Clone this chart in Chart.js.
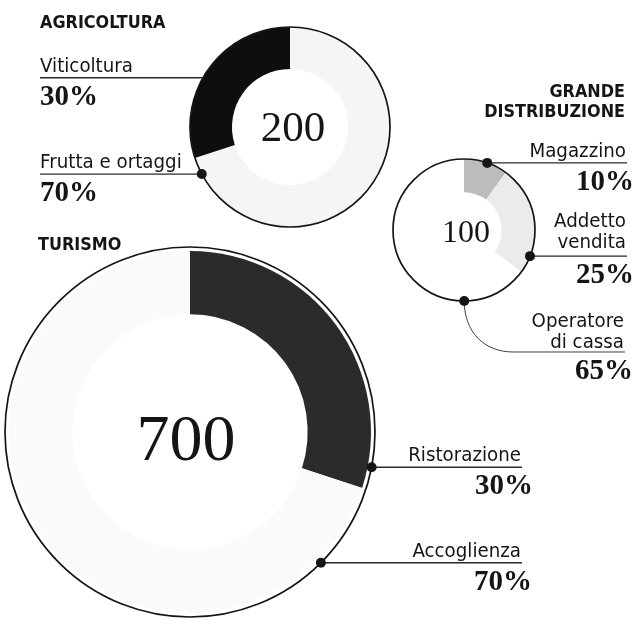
<!DOCTYPE html>
<html>
<head>
<meta charset="utf-8">
<script src="https://cdn.jsdelivr.net/npm/chart.js@4/dist/chart.umd.min.js"></script>
<style>
html,body{margin:0;padding:0;background:#fff;}
#wrap{position:relative;width:639px;height:619px;overflow:hidden;background:#fff;}
#wrap canvas{position:absolute;left:0;top:0;}
</style>
</head>
<body>
<div id="wrap">
  <canvas id="cTur" width="639" height="619"></canvas>
  <canvas id="cAgri" width="639" height="619"></canvas>
  <canvas id="cGdo" width="639" height="619"></canvas>
</div>
<script>
// ---------- DATA ----------
const agriTitle = ['AGRICOLTURA'];
const agriCategories = ['Frutta e ortaggi', 'Viticoltura'];
const agriValues = [70, 30];
const agriTotal = 200;

const turTitle = ['TURISMO'];
const turCategories = ['Ristorazione', 'Accoglienza'];
const turValues = [30, 70];
const turTotal = 700;

const gdoTitle = ['GRANDE', 'DISTRIBUZIONE'];
const gdoCategories = ['Magazzino', 'Addetto vendita', 'Operatore di cassa'];
const gdoValues = [10, 25, 65];
const gdoTotal = 100;

// ---------- DRAWING HELPERS ----------
const INK = '#151515';
const LABEL_FONT = '19px "DejaVu Sans", "Noto Sans", sans-serif';
const TITLE_FONT = 'bold 18px "DejaVu Sans", "Noto Sans", sans-serif';
const PCT_FONT = 'bold 29px "Liberation Serif", "DejaVu Serif", serif';

function txt(ctx, s, x, y, font, align, sx) {
  ctx.save();
  ctx.font = font;
  ctx.fillStyle = INK;
  ctx.textAlign = align;
  ctx.textBaseline = 'alphabetic';
  ctx.translate(x, y);
  ctx.scale(sx, 1);
  ctx.fillText(s, 0, 0);
  ctx.restore();
}

const calloutPlugin = {
  id: 'callouts',
  afterDatasetsDraw(chart, args, o) {
    const ctx = chart.ctx;
    const meta = chart.getDatasetMeta(0);
    const first = meta.data[0];
    const cx = first.x, cy = first.y;
    const R = first.outerRadius + (o.ringGap || 0);
    const labels = chart.data.labels;
    const values = chart.data.datasets[0].data;

    // outer outline
    ctx.save();
    ctx.beginPath();
    ctx.arc(cx, cy, R, 0, Math.PI * 2);
    ctx.lineWidth = 1.7;
    ctx.strokeStyle = INK;
    ctx.stroke();
    ctx.restore();

    // centre total
    ctx.save();
    ctx.font = o.centerFont;
    ctx.fillStyle = INK;
    ctx.textAlign = 'center';
    ctx.textBaseline = 'alphabetic';
    ctx.translate(cx + o.centerShift[0], cy + o.centerShift[1]);
    ctx.scale(o.centerScale, 1);
    ctx.fillText(String(o.total), 0, 0);
    ctx.restore();

    // title
    o.title.lines.forEach((t, i) => {
      txt(ctx, t, o.title.x, o.title.y + i * 20, TITLE_FONT, o.title.align, 0.89);
    });

    // callouts
    o.items.forEach(it => {
      const arc = meta.data[it.index];
      const ang = arc.startAngle + it.frac * (arc.endAngle - arc.startAngle);
      const px = cx + R * Math.cos(ang);
      const py = cy + R * Math.sin(ang);
      let lineY = py;
      ctx.save();
      ctx.strokeStyle = '#2a2a2a';
      ctx.lineWidth = 1.3;
      ctx.beginPath();
      if (it.side === 'left') {
        ctx.moveTo(it.textX, py);
        ctx.lineTo(px, py);
      } else if (it.curve) {
        lineY = py + it.curve[1];
        ctx.lineWidth = 0.9;
        ctx.moveTo(px, py);
        ctx.bezierCurveTo(px, py + it.curve[1] * 0.6, px + it.curve[0] * 0.4, lineY, px + it.curve[0], lineY);
        ctx.lineTo(it.lineEnd, lineY);
      } else {
        ctx.moveTo(px, py);
        ctx.lineTo(it.lineEnd, py);
      }
      ctx.stroke();
      if (it.dot) {
        ctx.beginPath();
        ctx.arc(px, py, 5, 0, Math.PI * 2);
        ctx.fillStyle = INK;
        ctx.fill();
      }
      ctx.restore();

      const name = labels[it.index];
      let parts = [name];
      if (it.wrap) {
        const k = name.indexOf(' ');
        parts = [name.slice(0, k), name.slice(k + 1)];
      }
      const gap = it.textGap || 6;
      const pct = values[it.index] + '%';
      if (it.side === 'left') {
        parts.forEach((p, i) => txt(ctx, p, it.textX, lineY - gap - (parts.length - 1 - i) * 21, LABEL_FONT, 'left', 0.96));
        txt(ctx, pct, it.textX, lineY + 27, PCT_FONT, 'left', 1);
      } else {
        parts.forEach((p, i) => txt(ctx, p, it.lineEnd - 1, lineY - gap - (parts.length - 1 - i) * 21, LABEL_FONT, 'right', 0.96));
        txt(ctx, pct, it.pctRight, lineY + 27, PCT_FONT, 'right', 1);
      }
    });
  }
};

function makeDonut(id, categories, values, colors, cutout, padding, calloutOpts) {
  return new Chart(document.getElementById(id), {
    type: 'doughnut',
    data: {
      labels: categories,
      datasets: [{
        data: values,
        backgroundColor: colors,
        borderWidth: 0,
        hoverOffset: 0
      }]
    },
    options: {
      responsive: false,
      animation: false,
      devicePixelRatio: 1,
      cutout: cutout,
      layout: { padding: padding },
      events: [],
      plugins: {
        legend: { display: false },
        tooltip: { enabled: false },
        callouts: calloutOpts
      }
    },
    plugins: [calloutPlugin]
  });
}

// TURISMO
makeDonut('cTur', turCategories, turValues, ['#2b2b2b', '#fafafa'], '65%',
  { left: 9, right: 268, top: 251, bottom: 6 },
  {
    total: turTotal, ringGap: 4,
    centerFont: '66px "Liberation Serif", "DejaVu Serif", serif', centerShift: [-4, 28], centerScale: 1,
    title: { lines: turTitle, x: 38, y: 250, align: 'left' },
    items: [
      { index: 0, frac: 0.935, dot: true, side: 'right', lineEnd: 522, pctRight: 533 },
      { index: 1, frac: 0.107, dot: true, side: 'right', lineEnd: 522, pctRight: 532 }
    ]
  });

// AGRICOLTURA
makeDonut('cAgri', agriCategories, agriValues, ['#f5f5f5', '#0e0e0e'], '58%',
  { left: 190, right: 249, top: 27, bottom: 392 },
  {
    total: agriTotal, ringGap: 0,
    centerFont: '43px "Liberation Serif", "DejaVu Serif", serif', centerShift: [3, 14], centerScale: 1,
    title: { lines: agriTitle, x: 40, y: 28, align: 'left' },
    items: [
      { index: 1, frac: 0.44, dot: false, side: 'left', textX: 40 },
      { index: 0, frac: 0.96, dot: true, side: 'left', textX: 40 }
    ]
  });

// GRANDE DISTRIBUZIONE
makeDonut('cGdo', gdoCategories, gdoValues, ['#bcbcbc', '#ebebeb', '#ffffff'], '53%',
  { left: 393, right: 104, top: 159, bottom: 318 },
  {
    total: gdoTotal, ringGap: 0,
    centerFont: '32px "Liberation Serif", "DejaVu Serif", serif', centerShift: [2, 12], centerScale: 1,
    title: { lines: gdoTitle, x: 625, y: 97, align: 'right' },
    items: [
      { index: 0, frac: 0.53, dot: true, side: 'right', lineEnd: 627, pctRight: 634 },
      { index: 1, frac: 0.84, dot: true, side: 'right', wrap: true, textGap: 8, lineEnd: 627, pctRight: 634 },
      { index: 2, frac: 0.23, dot: true, side: 'right', wrap: true, textGap: 4, curve: [49, 51], lineEnd: 625, pctRight: 633 }
    ]
  });
</script>
</body>
</html>
